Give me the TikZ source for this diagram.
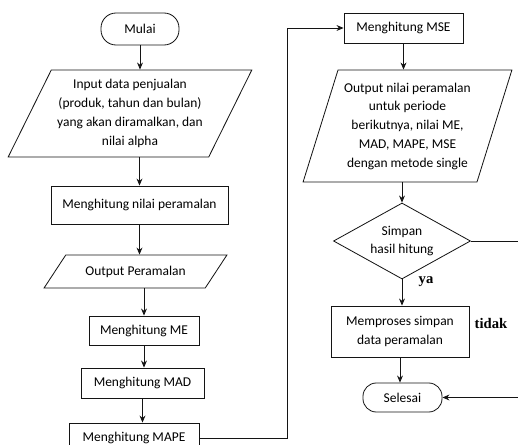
\documentclass[tikz,border=0pt]{standalone}
\usepackage{fontspec}
\setmainfont{Carlito}
\newfontfamily\labelfont{Liberation Serif}
\usepackage{tikz}
\usetikzlibrary{shapes.geometric, arrows.meta, positioning, calc}
\definecolor{mydark}{RGB}{20,20,20}
\tikzset{
  terminal/.style={rectangle, draw=mydark, align=center,
    font=\fontsize{11.5}{16}\selectfont, line width=0.7pt},
  prosesbox/.style={rectangle, draw=mydark, align=center,
    font=\fontsize{11.5}{16}\selectfont, line width=0.7pt, inner sep=2pt},
  iobox/.style={trapezium, trapezium stretches=true, draw=mydark,
    align=center, font=\fontsize{11.5}{16}\selectfont, line width=0.7pt, inner sep=1pt},
  decision/.style={diamond, draw=mydark, align=center, inner sep=0pt,
    font=\fontsize{11.5}{16}\selectfont, line width=0.7pt},
  arrow/.style={-{Stealth[length=6pt,width=5pt]}, line width=0.7pt, color=mydark},
  ket/.style={font=\labelfont\fontsize{12.5}{14}\selectfont\bfseries}
}

\begin{document}
\begin{tikzpicture}[x=0.03cm, y=-0.03cm]
  \useasboundingbox (0,0) rectangle (518,445);

  % Left column
  \node[terminal, minimum width=2.34cm, minimum height=0.96cm, rounded corners=0.45cm] (mulai) at (140,29) {Mulai};
  \node[iobox, trapezium left angle=60, trapezium right angle=120,
    minimum width=7.32cm, minimum height=2.61cm] (input) at (130,113.5)
    {Input data penjualan\\(produk, tahun dan bulan)\\yang akan diramalkan, dan\\nilai alpha};
  \node[prosesbox, minimum width=5.31cm, minimum height=1.14cm] (nilai) at (139.5,205) {Menghitung nilai peramalan};
  \node[iobox, trapezium left angle=41, trapezium right angle=139,
    minimum width=5.49cm, minimum height=0.99cm] (outpr) at (135.5,271.5) {Output Peramalan};
  \node[prosesbox, minimum width=3.3cm, minimum height=0.87cm] (me) at (144,330.5) {Menghitung ME};
  \node[prosesbox, minimum width=3.69cm, minimum height=0.9cm] (mad) at (142.5,383) {Menghitung MAD};
  \node[prosesbox, minimum width=3.9cm, minimum height=0.9cm] (mape) at (134,438) {Menghitung MAPE};

  % Right column
  \node[prosesbox, minimum width=3.57cm, minimum height=0.9cm] (mse) at (403.5,28) {Menghitung MSE};
  \node[iobox, trapezium left angle=70, trapezium right angle=110,
    minimum width=6.27cm, minimum height=3.36cm] (outmse) at (407.5,126)
    {Output nilai peramalan\\untuk periode\\berikutnya, nilai ME,\\MAD, MAPE, MSE\\dengan metode single};
  \node[decision, aspect=1.8, minimum width=4.11cm, minimum height=2.28cm] (simpan) at (402,241) {Simpan\\hasil hitung};
  \node[prosesbox, minimum width=4.14cm, minimum height=1.53cm] (proses) at (400,331.5) {Memproses simpan\\data peramalan};
  \node[terminal, minimum width=2.37cm, minimum height=0.87cm, rounded corners=0.4cm] (selesai) at (402.5,397.5) {Selesai};

  % Labels
  \node[ket] (ya) at (426,282) {ya};
  \node[ket] (tidak) at (491,323) {tidak};

  % Bends
  \coordinate (belok) at (287,28);
  \coordinate (tepi) at (526,0);

  % Connections
  \draw[arrow] (mulai) -- (mulai |- input.north);
  \draw[arrow] (nilai |- input.south) -- (nilai);
  \draw[arrow] (nilai.south) -- (nilai.south |- outpr.north);
  \draw[arrow] (me |- outpr.south) -- (me);
  \draw[arrow] (me.south) -- (me.south |- mad.north);
  \draw[arrow] (mad.south) -- (mad.south |- mape.north);
  \draw[arrow] (mape.east) -| (belok) -- (mse.west);
  \draw[arrow] (mse.south) -- (mse.south |- outmse.north);
  \draw[arrow] (simpan |- outmse.south) -- (simpan.north);
  \draw[arrow] (simpan.south) -- (simpan.south |- proses.north);
  \draw[arrow] (proses.south) -- (proses.south |- selesai.north);
  \draw[arrow] (simpan.east) -- (tepi |- simpan.east) -- (tepi |- selesai.east) -- (selesai.east);

\end{tikzpicture}
\end{document}
